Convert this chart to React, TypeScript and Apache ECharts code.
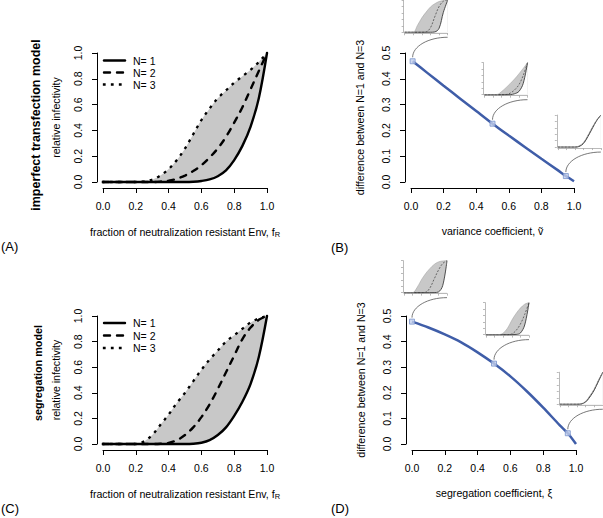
import React, { useEffect, useRef } from "react";
import * as echarts from "echarts";

const FONT = "'Liberation Sans', Arial, Helvetica, sans-serif";
const GRAY = "#c8c8c8";
const BLUE = "#3f5da8";

// ---------- Panels A and C : relative infectivity vs f_R ----------
const F_R = [0, 0.05, 0.1, 0.15, 0.2, 0.25, 0.3, 0.35, 0.4, 0.45, 0.5, 0.55, 0.6, 0.65, 0.7, 0.75, 0.8, 0.85, 0.9, 0.95, 1.0];

const IMPERFECT_N1 = [0, 0, 0, 0, 0, 0, 0, 0, 0, 0, 0, 0.002, 0.008, 0.02, 0.045, 0.09, 0.17, 0.28, 0.43, 0.65, 1.0];
const IMPERFECT_N2 = [0, 0, 0, 0, 0, 0, 0, 0.003, 0.01, 0.025, 0.05, 0.085, 0.13, 0.19, 0.26, 0.35, 0.46, 0.58, 0.72, 0.86, 1.0];
const IMPERFECT_N3 = [0, 0, 0, 0, 0, 0.004, 0.018, 0.05, 0.1, 0.17, 0.26, 0.37, 0.48, 0.57, 0.65, 0.71, 0.77, 0.82, 0.87, 0.93, 1.0];

const SEGREGATION_N1 = [0, 0, 0, 0, 0, 0, 0, 0, 0, 0, 0, 0.002, 0.01, 0.03, 0.07, 0.13, 0.22, 0.33, 0.47, 0.68, 1.0];
const SEGREGATION_N2 = [0, 0, 0, 0, 0, 0, 0, 0.002, 0.008, 0.03, 0.07, 0.13, 0.21, 0.31, 0.43, 0.56, 0.69, 0.82, 0.91, 0.97, 1.0];
const SEGREGATION_N3 = [0, 0, 0, 0, 0, 0.02, 0.07, 0.15, 0.23, 0.32, 0.4, 0.49, 0.58, 0.66, 0.73, 0.8, 0.85, 0.9, 0.95, 0.98, 1.0];

const LEGEND_LABELS = ["N= 1", "N= 2", "N= 3"];

// y tick labels
const PROB_TICKS = [0, 0.2, 0.4, 0.6, 0.8, 1.0];
const DIFF_TICKS = [0, 0.1, 0.2, 0.3, 0.4, 0.5];

// ---------- Panels B and D : difference between N=1 and N=3 ----------
const V_TILDE = [0.01, 0.1, 0.2, 0.3, 0.4, 0.5, 0.6, 0.7, 0.8, 0.9, 0.95, 1.0];
const DIFF_V = [0.468, 0.423, 0.373, 0.324, 0.275, 0.226, 0.18, 0.135, 0.09, 0.046, 0.023, 0.003];
const MARK_V = [0.01, 0.5, 0.95];
const MARK_V_DIFF = [0.468, 0.226, 0.023];

const XI = [0, 0.1, 0.2, 0.3, 0.4, 0.5, 0.6, 0.7, 0.8, 0.9, 0.95, 1.0];
const DIFF_XI = [0.478, 0.455, 0.428, 0.397, 0.358, 0.314, 0.264, 0.206, 0.142, 0.074, 0.042, 0];
const MARK_XI = [0, 0.5, 0.95];
const MARK_XI_DIFF = [0.478, 0.314, 0.042];

// ---------- inset curves (x = INSET_F) ----------
const INSET_F = [0, 0.1, 0.2, 0.3, 0.4, 0.5, 0.6, 0.7, 0.8, 0.9, 1.0];

const INSET_V1_N1 = [0, 0, 0, 0, 0, 0, 0, 0.01, 0.12, 0.62, 1.0];
const INSET_V1_N2 = [0, 0, 0, 0, 0, 0.01, 0.14, 0.48, 0.8, 0.97, 1.0];
const INSET_V1_N3 = [0, 0, 0, 0.22, 0.45, 0.63, 0.79, 0.89, 0.96, 0.99, 1.0];

const INSET_V2_N1 = [0, 0, 0, 0, 0, 0, 0.002, 0.03, 0.1, 0.35, 1.0];
const INSET_V2_N2 = [0, 0, 0, 0, 0, 0.005, 0.05, 0.15, 0.31, 0.6, 1.0];
const INSET_V2_N3 = [0, 0, 0, 0.01, 0.1, 0.22, 0.35, 0.49, 0.65, 0.82, 1.0];

const INSET_V3_N1 = [0, 0, 0, 0, 0, 0.02, 0.12, 0.33, 0.58, 0.82, 1.0];
const INSET_V3_N2 = [0, 0, 0, 0, 0.003, 0.03, 0.13, 0.35, 0.6, 0.83, 1.0];
const INSET_V3_N3 = [0, 0, 0, 0, 0.005, 0.04, 0.15, 0.37, 0.62, 0.84, 1.0];

const INSET_XI1_N1 = [0, 0, 0, 0, 0, 0, 0, 0.002, 0.02, 0.22, 1.0];
const INSET_XI1_N2 = [0, 0, 0, 0, 0, 0.01, 0.14, 0.42, 0.7, 0.91, 1.0];
const INSET_XI1_N3 = [0, 0, 0, 0.15, 0.39, 0.59, 0.75, 0.88, 0.96, 0.99, 1.0];

const INSET_XI2_N1 = [0, 0, 0, 0, 0, 0, 0, 0.005, 0.05, 0.3, 1.0];
const INSET_XI2_N2 = [0, 0, 0, 0, 0, 0, 0.02, 0.13, 0.33, 0.63, 1.0];
const INSET_XI2_N3 = [0, 0, 0, 0, 0.05, 0.2, 0.45, 0.66, 0.83, 0.95, 1.0];

const INSET_XI3_N1 = [0, 0, 0, 0, 0, 0.01, 0.07, 0.23, 0.44, 0.72, 1.0];
const INSET_XI3_N2 = [0, 0, 0, 0, 0, 0.012, 0.08, 0.25, 0.46, 0.74, 1.0];
const INSET_XI3_N3 = [0, 0, 0, 0, 0.002, 0.015, 0.09, 0.27, 0.48, 0.76, 1.0];

const INSETS_B = [
  [INSET_V1_N1, INSET_V1_N2, INSET_V1_N3],
  [INSET_V2_N1, INSET_V2_N2, INSET_V2_N3],
  [INSET_V3_N1, INSET_V3_N2, INSET_V3_N3],
];
const INSETS_D = [
  [INSET_XI1_N1, INSET_XI1_N2, INSET_XI1_N3],
  [INSET_XI2_N1, INSET_XI2_N2, INSET_XI2_N3],
  [INSET_XI3_N1, INSET_XI3_N2, INSET_XI3_N3],
];

const MAIN_GRIDS = [
  { left: 103, top: 53, width: 164, height: 129 },
  { left: 411, top: 53, width: 163, height: 129 },
  { left: 103, top: 316, width: 164, height: 128 },
  { left: 412, top: 316, width: 164, height: 128 },
];
const MAIN_Y_TICKS = [PROB_TICKS, DIFF_TICKS, PROB_TICKS, DIFF_TICKS];

const fmt1 = (v: number) => v.toFixed(1);

function mainX(gridIndex: number, name: string, rich: boolean) {
  return {
    type: "value",
    gridIndex,
    min: 0,
    max: 1,
    interval: 0.2,
    offset: 6,
    position: "bottom",
    axisLine: { show: true, onZero: false, lineStyle: { color: "#000", width: 1 } },
    axisTick: { show: true, length: 5, lineStyle: { color: "#000", width: 1 } },
    axisLabel: { show: true, margin: 12, fontSize: 10.5, color: "#000", fontFamily: FONT, formatter: fmt1 },
    splitLine: { show: false },
    name,
    nameLocation: "middle",
    nameGap: 37,
    nameTextStyle: rich
      ? {
          fontSize: 10.6,
          fontFamily: FONT,
          color: "#000",
          rich: {
            t: { fontSize: 10.6, fontFamily: FONT, color: "#000" },
            s: { fontSize: 7.5, fontFamily: FONT, color: "#000", padding: [5, 0, 0, 0] },
          },
        }
      : { fontSize: 10.6, fontFamily: FONT, color: "#000" },
  };
}

function mainY(gridIndex: number, ticks: number[], name: string, nameGap: number) {
  return {
    type: "value",
    gridIndex,
    min: ticks[0],
    max: ticks[ticks.length - 1],
    interval: ticks[1] - ticks[0],
    offset: 6,
    position: "left",
    axisLine: { show: true, onZero: false, lineStyle: { color: "#000", width: 1 } },
    axisTick: { show: true, length: 5, lineStyle: { color: "#000", width: 1 } },
    axisLabel: { show: false },
    splitLine: { show: false },
    name,
    nameLocation: "middle",
    nameGap,
    nameTextStyle: { fontSize: 10.6, fontFamily: FONT, color: "#000" },
  };
}

function insetAxis(gridIndex: number) {
  return {
    type: "value",
    gridIndex,
    min: 0,
    max: 1,
    interval: 0.2,
    offset: 1,
    axisLine: { show: true, onZero: false, lineStyle: { color: "#a8a8a8", width: 0.8 } },
    axisTick: { show: true, length: 2, lineStyle: { color: "#a8a8a8", width: 0.8 } },
    axisLabel: { show: false },
    splitLine: { show: false },
  };
}

// Grey band between N=1 and N=3: N=3 filled grey, N=1 filled white on top of it.
function bandSeries(idx: number, xs: number[], n1: number[], n2: number[], n3: number[], small: boolean) {
  const pts = (arr: number[]) => xs.map((x, i) => [x, arr[i]]);
  const common = {
    type: "line",
    xAxisIndex: idx,
    yAxisIndex: idx,
    symbol: "none",
    showSymbol: false,
    smooth: 0.35,
    silent: true,
    clip: false,
  };
  return [
    {
      ...common,
      data: pts(n3),
      lineStyle: { width: 0, opacity: 0 },
      areaStyle: { color: GRAY, opacity: 1, origin: "start" },
      z: 1,
    },
    {
      ...common,
      data: pts(n1),
      lineStyle: { width: 0, opacity: 0 },
      areaStyle: { color: "#ffffff", opacity: 1, origin: "start" },
      z: 2,
    },
    {
      ...common,
      data: pts(n1),
      lineStyle: small ? { color: "#3a3a3a", width: 0.9 } : { color: "#000", width: 2.4, cap: "round" },
      z: 3,
    },
    {
      ...common,
      data: pts(n2),
      lineStyle: small
        ? { color: "#3a3a3a", width: 0.7, type: [2, 1.5] }
        : { color: "#000", width: 2.4, type: [6, 7], cap: "round" },
      z: 3,
    },
    {
      ...common,
      data: pts(n3),
      lineStyle: small
        ? { color: "#9a9a9a", width: 0.5 }
        : { color: "#000", width: 2.3, type: [0.5, 7.5], cap: "square" },
      z: 3,
    },
  ];
}

function diffSeries(idx: number, xs: number[], ys: number[], mx: number[], my: number[]) {
  return [
    {
      type: "line",
      xAxisIndex: idx,
      yAxisIndex: idx,
      data: xs.map((x, i) => [x, ys[i]]),
      symbol: "none",
      smooth: 0.3,
      clip: false,
      lineStyle: { color: BLUE, width: 2.5 },
      z: 3,
    },
    {
      type: "scatter",
      xAxisIndex: idx,
      yAxisIndex: idx,
      data: mx.map((x, i) => [x, my[i]]),
      symbol: "rect",
      symbolSize: 5,
      itemStyle: { color: "#c3d0ec", borderColor: "#7b95cd", borderWidth: 1 },
      z: 5,
    },
  ];
}

type Px = { markB: number[][]; markD: number[][]; yLab: { x: number; y: number; text: string }[] };

function buildOption(px: Px | null) {
  const grids: any[] = MAIN_GRIDS.map((g) => ({ ...g, containLabel: false }));
  const xAxes: any[] = [
    mainX(0, "{t|fraction of neutralization resistant Env, f}{s|R}", true),
    mainX(1, "variance coefficient, \u1E7D", false),
    mainX(2, "{t|fraction of neutralization resistant Env, f}{s|R}", true),
    mainX(3, "segregation coefficient, \u03BE", false),
  ];
  const yAxes: any[] = [
    mainY(0, PROB_TICKS, "relative infectivity", 36),
    mainY(1, DIFF_TICKS, "difference between N=1 and N=3", 40),
    mainY(2, PROB_TICKS, "relative infectivity", 36),
    mainY(3, DIFF_TICKS, "difference between N=1 and N=3", 40),
  ];
  const series: any[] = [
    ...bandSeries(0, F_R, IMPERFECT_N1, IMPERFECT_N2, IMPERFECT_N3, false),
    ...diffSeries(1, V_TILDE, DIFF_V, MARK_V, MARK_V_DIFF),
    ...bandSeries(2, F_R, SEGREGATION_N1, SEGREGATION_N2, SEGREGATION_N3, false),
    ...diffSeries(3, XI, DIFF_XI, MARK_XI, MARK_XI_DIFF),
  ];

  const graphic: any[] = [];
  const txt = (x: number, y: number, text: string, size: number, opts: any = {}) => ({
    type: "text",
    x,
    y,
    rotation: opts.rotation || 0,
    silent: true,
    style: {
      text,
      fontSize: size,
      fontFamily: FONT,
      fontWeight: opts.bold ? "bold" : "normal",
      fill: "#000",
      align: opts.align || "left",
      verticalAlign: "middle",
    },
  });

  graphic.push(txt(36, 125, "imperfect transfection model", 12.5, { bold: true, rotation: Math.PI / 2, align: "center" }));
  graphic.push(txt(37.5, 373, "segregation model", 10.8, { bold: true, rotation: Math.PI / 2, align: "center" }));
  graphic.push(txt(1, 246, "(A)", 13));
  graphic.push(txt(331, 247, "(B)", 13));
  graphic.push(txt(1, 508, "(C)", 13));
  graphic.push(txt(331, 508, "(D)", 13));

  // legends (A and C)
  const legendStyles = [
    { stroke: "#000", lineWidth: 2.4, lineCap: "round" },
    { stroke: "#000", lineWidth: 2.4, lineDash: [6, 7], lineCap: "round" },
    { stroke: "#000", lineWidth: 2.3, lineDash: [0.5, 7.5], lineCap: "square" },
  ];
  [
    [60.5, 72.5, 84.5],
    [323, 335.5, 348],
  ].forEach((ys) => {
    ys.forEach((y, i) => {
      graphic.push({
        type: "line",
        silent: true,
        shape: { x1: 104, y1: y, x2: 125, y2: y },
        style: { ...legendStyles[i], fill: null },
      });
      graphic.push(txt(133, y, LEGEND_LABELS[i], 10.5));
    });
  });

  if (px) {
    // rotated y tick labels (R style), placed with the y axes' own scales
    px.yLab.forEach((l) => graphic.push(txt(l.x, l.y, l.text, 10.5, { rotation: Math.PI / 2, align: "center" })));

    const addInsets = (marks: number[][], curves: number[][][]) => {
      marks.forEach((p, k) => {
        const [mx, my] = p;
        const gi = grids.length;
        grids.push({ left: mx - 8, top: my - 61, width: 43, height: 32 });
        xAxes.push(insetAxis(gi));
        yAxes.push(insetAxis(gi));
        const [c1, c2, c3] = curves[k];
        series.push(...bandSeries(gi, INSET_F, c1, c2, c3, true));
        const x1 = mx, y1 = my - 4, x2 = mx + 35, y2 = my - 24;
        graphic.push({
          type: "bezierCurve",
          silent: true,
          shape: {
            x1,
            y1,
            x2,
            y2,
            cpx1: x1,
            cpy1: y1 - 0.55 * (y1 - y2),
            cpx2: x2 - 0.55 * (x2 - x1),
            cpy2: y2,
          },
          style: { stroke: "#555", lineWidth: 0.8, fill: null },
        });
      });
    };
    addInsets(px.markB, INSETS_B);
    addInsets(px.markD, INSETS_D);
  }

  return {
    animation: false,
    backgroundColor: "#fff",
    textStyle: { fontFamily: FONT },
    grid: grids,
    xAxis: xAxes,
    yAxis: yAxes,
    series,
    graphic,
  };
}

export default function App() {
  const ref = useRef<HTMLDivElement>(null);
  useEffect(() => {
    const el = ref.current;
    if (!el) return;
    const chart = echarts.init(el, null, { renderer: "svg" });
    chart.setOption(buildOption(null) as any);
    const markB = MARK_V.map((v, i) => chart.convertToPixel({ gridIndex: 1 } as any, [v, MARK_V_DIFF[i]]) as number[]);
    const markD = MARK_XI.map((v, i) => chart.convertToPixel({ gridIndex: 3 } as any, [v, MARK_XI_DIFF[i]]) as number[]);
    const yLab: { x: number; y: number; text: string }[] = [];
    MAIN_Y_TICKS.forEach((ticks, i) => {
      const axisX = MAIN_GRIDS[i].left - 6;
      ticks.forEach((t) => {
        const p = chart.convertToPixel({ gridIndex: i } as any, [0, t]) as number[];
        yLab.push({ x: axisX - 19, y: p[1], text: fmt1(t) });
      });
    });
    chart.setOption(buildOption({ markB, markD, yLab }) as any, { notMerge: true });
    return () => chart.dispose();
  }, []);
  return (
    <div
      ref={ref}
      style={{ position: "absolute", left: 0, top: 0, width: 603, height: 518, background: "#fff" }}
    />
  );
}
